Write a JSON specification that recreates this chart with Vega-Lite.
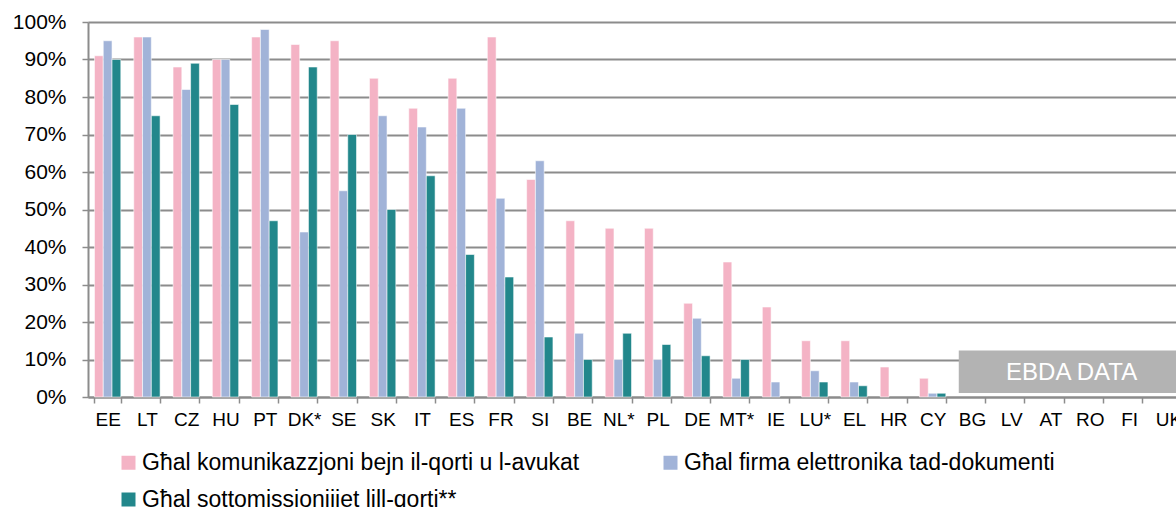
{
  "$schema": "https://vega.github.io/schema/vega-lite/v6.json",
  "width": 1088,
  "height": 375,
  "autosize": {"type": "none"},
  "padding": {"left": 88, "top": 22, "right": 0, "bottom": 110},
  "background": "white",
  "config": {
    "view": {"stroke": null},
    "font": "Liberation Sans",
    "axis": {"labelFont": "Liberation Sans", "labelColor": "#000000", "domainColor": "#8c8c8c", "tickColor": "#8c8c8c", "domainWidth": 2, "tickWidth": 1.5, "gridColor": "#8c8c8c", "gridWidth": 2, "title": null, "labelOverlap": false}
  },
  "layer": [
    {
      "data": {"values": [
        {"c":"EE","s":"s1","v":0.91},{"c":"EE","s":"s2","v":0.95},{"c":"EE","s":"s3","v":0.90},
        {"c":"LT","s":"s1","v":0.96},{"c":"LT","s":"s2","v":0.96},{"c":"LT","s":"s3","v":0.75},
        {"c":"CZ","s":"s1","v":0.88},{"c":"CZ","s":"s2","v":0.82},{"c":"CZ","s":"s3","v":0.89},
        {"c":"HU","s":"s1","v":0.90},{"c":"HU","s":"s2","v":0.90},{"c":"HU","s":"s3","v":0.78},
        {"c":"PT","s":"s1","v":0.96},{"c":"PT","s":"s2","v":0.98},{"c":"PT","s":"s3","v":0.47},
        {"c":"DK*","s":"s1","v":0.94},{"c":"DK*","s":"s2","v":0.44},{"c":"DK*","s":"s3","v":0.88},
        {"c":"SE","s":"s1","v":0.95},{"c":"SE","s":"s2","v":0.55},{"c":"SE","s":"s3","v":0.70},
        {"c":"SK","s":"s1","v":0.85},{"c":"SK","s":"s2","v":0.75},{"c":"SK","s":"s3","v":0.50},
        {"c":"IT","s":"s1","v":0.77},{"c":"IT","s":"s2","v":0.72},{"c":"IT","s":"s3","v":0.59},
        {"c":"ES","s":"s1","v":0.85},{"c":"ES","s":"s2","v":0.77},{"c":"ES","s":"s3","v":0.38},
        {"c":"FR","s":"s1","v":0.96},{"c":"FR","s":"s2","v":0.53},{"c":"FR","s":"s3","v":0.32},
        {"c":"SI","s":"s1","v":0.58},{"c":"SI","s":"s2","v":0.63},{"c":"SI","s":"s3","v":0.16},
        {"c":"BE","s":"s1","v":0.47},{"c":"BE","s":"s2","v":0.17},{"c":"BE","s":"s3","v":0.10},
        {"c":"NL*","s":"s1","v":0.45},{"c":"NL*","s":"s2","v":0.10},{"c":"NL*","s":"s3","v":0.17},
        {"c":"PL","s":"s1","v":0.45},{"c":"PL","s":"s2","v":0.10},{"c":"PL","s":"s3","v":0.14},
        {"c":"DE","s":"s1","v":0.25},{"c":"DE","s":"s2","v":0.21},{"c":"DE","s":"s3","v":0.11},
        {"c":"MT*","s":"s1","v":0.36},{"c":"MT*","s":"s2","v":0.05},{"c":"MT*","s":"s3","v":0.10},
        {"c":"IE","s":"s1","v":0.24},{"c":"IE","s":"s2","v":0.04},
        {"c":"LU*","s":"s1","v":0.15},{"c":"LU*","s":"s2","v":0.07},{"c":"LU*","s":"s3","v":0.04},
        {"c":"EL","s":"s1","v":0.15},{"c":"EL","s":"s2","v":0.04},{"c":"EL","s":"s3","v":0.03},
        {"c":"HR","s":"s1","v":0.08},
        {"c":"CY","s":"s1","v":0.05},{"c":"CY","s":"s2","v":0.01},{"c":"CY","s":"s3","v":0.01}
      ]},
      "transform": [{"lookup": "s", "from": {"data": {"values": [
        {"s":"s1","name":"Għal komunikazzjoni bejn il-qorti u l-avukat"},
        {"s":"s2","name":"Għal firma elettronika tad-dokumenti"},
        {"s":"s3","name":"Għal sottomissjonijiet lill-qorti**"}
      ]}, "key": "s", "fields": ["name"]}}],
      "mark": {"type": "bar", "stroke": "#ffffff", "strokeWidth": 0.8, "strokeOpacity": 0.7},
      "encoding": {
        "x": {
          "field": "c", "type": "nominal",
          "scale": {"domain": ["EE","LT","CZ","HU","PT","DK*","SE","SK","IT","ES","FR","SI","BE","NL*","PL","DE","MT*","IE","LU*","EL","HR","CY","BG","LV","AT","RO","FI","UK"], "range": [0, 1100], "paddingInner": 0.33, "paddingOuter": 0.165},
          "axis": {"labelAngle": 0, "labelFontSize": 19, "tickBand": "extent", "tickSize": 6, "labelPadding": 7, "grid": false}
        },
        "xOffset": {"field": "s", "type": "nominal", "scale": {"paddingInner": 0, "paddingOuter": 0}},
        "y": {
          "field": "v", "type": "quantitative",
          "scale": {"domain": [0, 1], "nice": false},
          "axis": {"values": [0,0.1,0.2,0.3,0.4,0.5,0.6,0.7,0.8,0.9,1], "format": ".0%", "labelFontSize": 21, "tickSize": 6, "labelPadding": 16, "grid": true, "labelOverlap": false}
        },
        "color": {
          "field": "name", "type": "nominal",
          "scale": {"domain": ["Għal komunikazzjoni bejn il-qorti u l-avukat", "Għal firma elettronika tad-dokumenti", "Għal sottomissjonijiet lill-qorti**"], "range": ["#f4b3c5", "#a1b3d8", "#22878b"]},
          "legend": {"title": null, "orient": "none", "legendX": 29, "legendY": 429, "columns": 2, "direction": "horizontal", "symbolType": "square", "symbolSize": 196, "symbolStrokeWidth": 0, "labelFont": "Liberation Sans", "labelFontSize": 23, "labelColor": "#000000", "labelLimit": 700, "labelOffset": 2, "columnPadding": 79, "rowPadding": 13, "padding": 0}
        }
      }
    },
    {
      "data": {"values": [{"a": "BG", "b": "UK", "t": "RO", "y1": 0.011, "y2": 0.124, "ym": 0.063, "label": "EBDA DATA"}]},
      "layer": [
        {
          "mark": {"type": "rect", "color": "#b3b3b3"},
          "encoding": {
            "x": {"field": "a", "type": "nominal", "bandPosition": 0},
            "x2": {"field": "b", "bandPosition": 1},
            "y": {"field": "y1", "type": "quantitative", "axis": {"values": [0,0.1,0.2,0.3,0.4,0.5,0.6,0.7,0.8,0.9,1], "format": ".0%", "labelFontSize": 21, "tickSize": 6, "labelPadding": 16, "grid": true, "labelOverlap": false}},
            "y2": {"field": "y2"}
          }
        },
        {
          "mark": {"type": "text", "color": "#ffffff", "fontSize": 24, "font": "Liberation Sans", "align": "center", "baseline": "middle", "dx": -5},
          "encoding": {
            "x": {"field": "t", "type": "nominal", "bandPosition": 0},
            "y": {"field": "ym", "type": "quantitative", "axis": {"values": [0,0.1,0.2,0.3,0.4,0.5,0.6,0.7,0.8,0.9,1], "format": ".0%", "labelFontSize": 21, "tickSize": 6, "labelPadding": 16, "grid": true, "labelOverlap": false}},
            "text": {"field": "label"}
          }
        }
      ]
    }
  ]
}
